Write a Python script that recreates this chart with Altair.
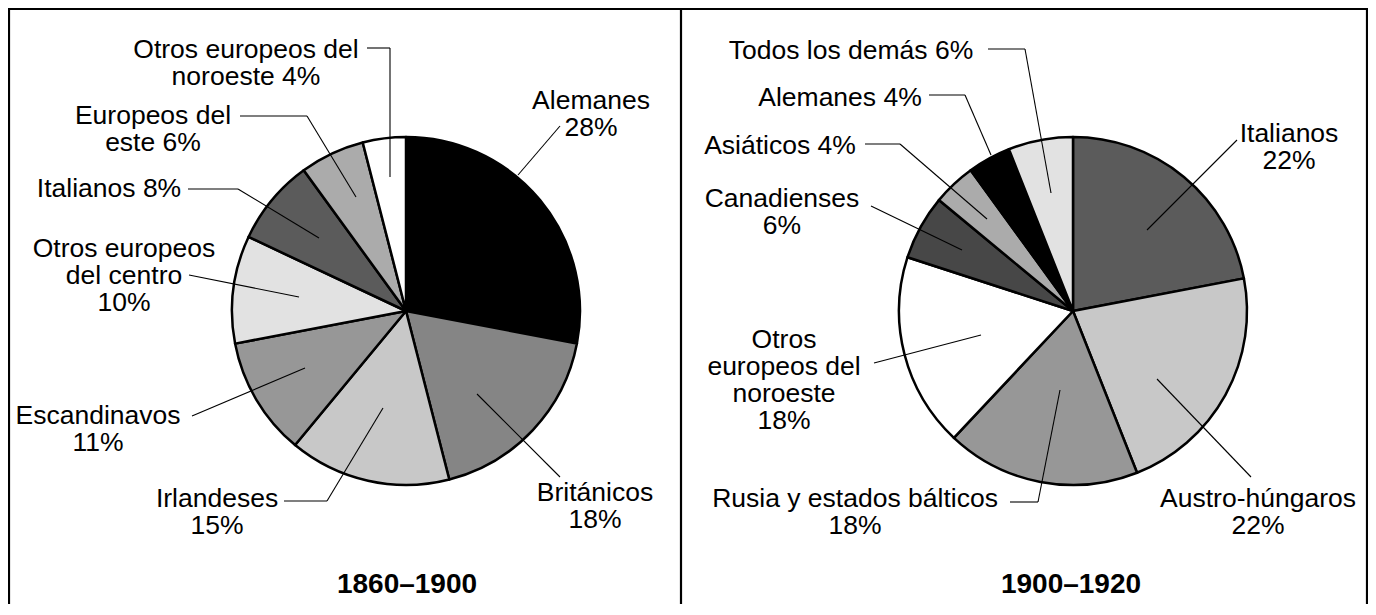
import altair as alt
import pandas as pd

# ---------------- data ----------------
p1_names = ["Alemanes", "Británicos", "Irlandeses", "Escandinavos",
            "Otros europeos del centro", "Italianos", "Europeos del este",
            "Otros europeos del noroeste"]
p1_values = [28, 18, 15, 11, 10, 8, 6, 4]
p1_heads = ["Alemanes\n", "Británicos\n", "Irlandeses\n", "Escandinavos\n",
            "Otros europeos\ndel centro\n", "Italianos ", "Europeos del\neste ",
            "Otros europeos del\nnoroeste "]
p1_title = "1860–1900"

p2_names = ["Italianos", "Austro-húngaros", "Rusia y estados bálticos",
            "Otros europeos del noroeste", "Canadienses", "Asiáticos",
            "Alemanes", "Todos los demás"]
p2_values = [22, 22, 18, 18, 6, 4, 4, 6]
p2_heads = ["Italianos\n", "Austro-húngaros\n", "Rusia y estados bálticos\n",
            "Otros\neuropeos del\nnoroeste\n", "Canadienses\n", "Asiáticos ",
            "Alemanes ", "Todos los demás "]
p2_title = "1900–1920"

cat_domain = ["Alemanes", "Británicos", "Irlandeses", "Escandinavos",
              "Otros europeos del centro", "Italianos", "Europeos del este",
              "Otros europeos del noroeste", "Austro-húngaros",
              "Rusia y estados bálticos", "Canadienses", "Asiáticos",
              "Todos los demás"]
cat_colors = ["#000000", "#858585", "#c8c8c8", "#979797", "#e2e2e2", "#5b5b5b",
              "#ababab", "#ffffff", "#c8c8c8", "#979797", "#474747", "#ababab",
              "#e2e2e2"]

# ---------------- layout (pixels in the view) ----------------
W, H = 1360, 596
R = 174
p1_center = (398, 303)
p2_center = (1065, 303)

p1_label_xy = [(583, 101), (587, 493), (209, 499), (90, 416), (116, 249),
               (101, 189), (145, 116), (238, 50)]
p1_leaders = [
    [(552, 118), (510, 167)],
    [(552, 469), (469, 386)],
    [(276, 493), (319, 493), (375, 400)],
    [(184, 408), (297, 360)],
    [(181, 267), (291, 289)],
    [(180, 181), (230, 181), (311, 230)],
    [(232, 108), (299, 108), (348, 189)],
    [(359, 40), (382, 40), (382, 169)],
]
p2_label_xy = [(1281, 134), (1250, 499), (847, 499), (776, 340), (774, 199),
               (772, 146), (832, 98), (843, 51)]
p2_leaders = [
    [(1229, 132), (1139, 222)],
    [(1243, 469), (1149, 371)],
    [(1002, 494), (1030, 494), (1052, 382)],
    [(866, 355), (973, 327)],
    [(863, 198), (954, 242)],
    [(857, 136), (892, 136), (979, 211)],
    [(921, 87), (957, 87), (983, 147)],
    [(980, 41), (1017, 41), (1043, 185)],
]
title_xy = [(399, 585), (1063, 585)]
frame_segments = [(0, 1, W, 1), (1, 0, 1, H), (673, 0, 673, H), (W - 1, 0, W - 1, H)]

FONT = "Liberation Sans"

# ---------------- tables ----------------
def pie_df(names, values):
    return pd.DataFrame({"name": names, "value": values, "idx": list(range(len(names)))})

def label_df(heads, values, xy):
    return pd.DataFrame({
        "text": [h + f"{v}%" for h, v in zip(heads, values)],
        "x": [p[0] for p in xy],
        "y": [p[1] for p in xy],
    })

def seg_rows(polys):
    rows = []
    for poly in polys:
        for a, b in zip(poly[:-1], poly[1:]):
            rows.append({"x": a[0], "y": a[1], "x2": b[0], "y2": b[1]})
    return rows

color_enc = alt.Color("name:N", scale=alt.Scale(domain=cat_domain, range=cat_colors), legend=None)

def pie(names, values, center):
    return alt.Chart(pie_df(names, values)).mark_arc(
        outerRadius=R, stroke="black", strokeWidth=2.5, strokeJoin="round"
    ).encode(
        theta=alt.Theta("value:Q", stack=True),
        order=alt.Order("idx:Q"),
        color=color_enc,
        x=alt.value(center[0]),
        y=alt.value(center[1]),
    )

pie1 = pie(p1_names, p1_values, p1_center)
pie2 = pie(p2_names, p2_values, p2_center)

leaders_df = pd.DataFrame(seg_rows(p1_leaders) + seg_rows(p2_leaders))
leaders = alt.Chart(leaders_df).mark_rule(color="black", strokeWidth=1.1).encode(
    x=alt.X("x:Q", scale=None), y=alt.Y("y:Q", scale=None),
    x2="x2:Q", y2="y2:Q",
)

frame_df = pd.DataFrame([{"x": a, "y": b, "x2": c, "y2": d} for a, b, c, d in frame_segments])
frame = alt.Chart(frame_df).mark_rule(color="black", strokeWidth=2.2).encode(
    x=alt.X("x:Q", scale=None), y=alt.Y("y:Q", scale=None),
    x2="x2:Q", y2="y2:Q",
)

labels_df = pd.concat([label_df(p1_heads, p1_values, p1_label_xy),
                       label_df(p2_heads, p2_values, p2_label_xy)], ignore_index=True)
labels = alt.Chart(labels_df).mark_text(
    font=FONT, fontSize=26.5, lineBreak="\n", lineHeight=27,
    align="center", baseline="alphabetic", color="black",
).encode(
    x=alt.X("x:Q", scale=None), y=alt.Y("y:Q", scale=None), text="text:N",
)

titles_df = pd.DataFrame({"text": [p1_title, p2_title],
                          "x": [p[0] for p in title_xy], "y": [p[1] for p in title_xy]})
titles = alt.Chart(titles_df).mark_text(
    font=FONT, fontSize=28, fontWeight="bold", align="center", baseline="alphabetic", color="black",
).encode(
    x=alt.X("x:Q", scale=None), y=alt.Y("y:Q", scale=None), text="text:N",
)

chart = alt.layer(frame, pie1, pie2, leaders, labels, titles).resolve_scale(
    theta="independent"
).properties(
    width=W, height=H, padding=0, autosize=alt.AutoSizeParams(type="none"),
    background="white",
).configure_view(stroke=None)

chart.save("out.html", embed_options={"renderer": "svg", "actions": False})
